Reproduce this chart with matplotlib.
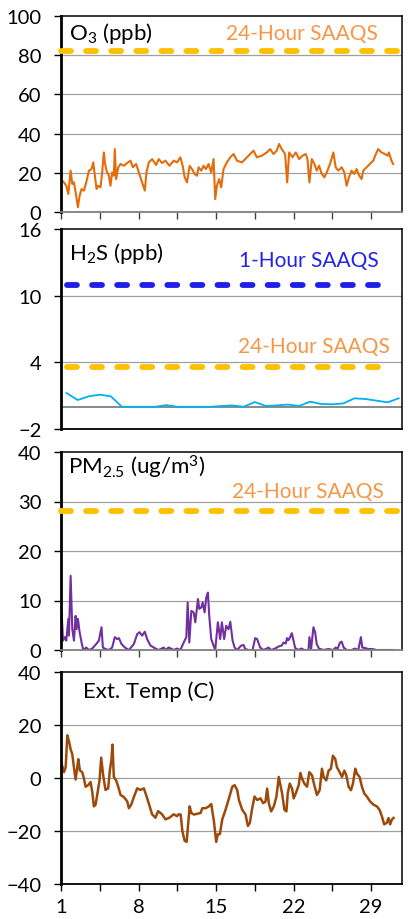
import numpy as np
import matplotlib
matplotlib.use("Agg")
import matplotlib.pyplot as plt
from matplotlib.ticker import MultipleLocator

plt.rcParams['font.family'] = ['Lato', 'DejaVu Sans']
plt.rcParams['mathtext.fontset'] = 'custom'
plt.rcParams['mathtext.rm'] = 'Lato'
plt.rcParams['mathtext.it'] = 'Lato:italic'

# ---------------- data ----------------
o3_day = [1.1, 1.27, 1.48, 1.66, 1.87, 2.02, 2.17, 2.32, 2.53, 2.68, 2.86, 3.07, 3.28, 3.52,
          3.76, 3.91, 4.06, 4.21, 4.36, 4.57, 4.72, 4.87, 4.96, 5.11, 5.32, 5.47, 5.62,
          5.77, 5.86, 5.98, 6.17, 6.38, 6.68, 6.98, 7.28, 7.49, 7.79, 8.03, 8.33, 8.57,
          8.72, 8.93, 9.23, 9.59, 9.83, 10.13, 10.43, 10.79, 11.18, 11.48, 11.78, 11.99,
          12.17, 12.38, 12.62, 12.83, 13.07, 13.28, 13.43, 13.67, 13.88, 14.09, 14.33,
          14.57, 14.78, 14.93, 15.08, 15.29, 15.47, 15.68, 15.98,
          16.29, 16.59, 16.89, 17.34, 17.79, 18.09, 18.39, 18.69, 19.14, 19.59, 19.89,
          20.19, 20.49, 20.7, 20.94, 21.24, 21.43, 21.61, 21.91, 22.21, 22.51, 22.81,
          23.11, 23.26, 23.44, 23.65, 23.89, 24.1, 24.31, 24.55, 24.79, 25.0, 25.3,
          25.6, 25.81, 26.05, 26.35, 26.59, 26.8, 27.01, 27.25, 27.49, 27.7, 27.94,
          28.15, 28.3, 28.6, 28.9, 29.2, 29.44, 29.65, 29.95, 30.25, 30.49, 30.61,
          30.85, 31.0]
o3_val = [16, 15.1, 13.4, 9.2, 21.1, 14.3, 15.1, 10, 2.4, 8.3, 11.7, 10.9, 15.1, 21.1,
          21.9, 25.3, 18.5, 11.7, 13.4, 12.6, 20.2, 30.4, 25.3, 21.1, 18.5, 13.4, 20.2,
          18.5, 32.1, 16.8, 22.8, 24.5, 23.6, 25, 26.2, 22.8, 24.5, 20.2, 15.1, 10.9,
          20.2, 25.3, 27, 24, 27, 25, 26.2, 23.6, 26.2, 25.3, 27.9, 23.6,
          17.7, 15.1, 23.6, 21.9, 19.4, 18.5, 22.8, 21.1, 23.6, 21.9, 24.5,
          20.2, 27, 6.6, 13.4, 16.8, 12.6, 21.9, 25.3,
          27.9, 29.6, 26.2, 25.3, 27.9, 29.6, 31.3, 27.9, 28.7, 30.4, 32.1,
          29.6, 31.3, 34.7, 32.1, 29.6, 15.1, 30.4, 27.9, 30.4, 27, 28.7,
          29.6, 27, 15.1, 27, 24.5, 21.1, 23.6, 19.4, 17.7, 20.2, 24.5,
          30.4, 22.8, 21.1, 22.8, 20.2, 13.4, 17.7, 21.1, 19.4, 21.9, 18.5,
          16.8, 21.1, 22.8, 24.5, 26.2, 29.6, 32.1, 30.4, 29.6, 28.7, 30.4,
          26.2, 24.5]
o3_std = 82

h2s_day = list(range(1, 32))
h2s_val = [1.24, 0.61, 0.94, 1.09, 0.94, 0.0, 0.0, 0.0, 0.0, 0.15, 0.0, 0.0, 0.0, 0.0,
           0.07, 0.12, 0.0, 0.43, 0.07, 0.12, 0.2, 0.07, 0.46, 0.25, 0.22, 0.3, 0.76,
           0.7, 0.55, 0.4, 0.76]
h2s_std_1h = 11
h2s_std_24h = 3.6
h2s_ticks = [-2, 4, 10, 16]

pm_day = [1.0, 1.06, 1.18, 1.36, 1.48, 1.66, 1.72, 1.87, 2.02, 2.17, 2.32, 2.41, 2.53, 2.68,
          2.86, 3.01, 3.28, 3.52, 3.82, 4.18, 4.42, 4.66, 4.78, 5.02, 5.32, 5.62, 5.86,
          6.08, 6.23, 6.47, 6.77, 7.13, 7.58, 7.88, 8.09, 8.33, 8.57, 8.78, 9.08, 9.53,
          9.83, 10.28, 10.43, 10.73, 11.18, 11.48, 11.78, 12.08, 12.32, 12.44, 12.59,
          12.77, 12.98, 13.13, 13.37, 13.49, 13.67, 13.79, 13.97, 14.12, 14.27, 14.39,
          14.57, 14.78, 14.93, 15.17, 15.38, 15.53, 15.74, 15.92, 16.13, 16.29, 16.5,
          16.68, 16.89, 17.1, 17.28, 17.49, 17.64, 17.94, 18.3, 18.54, 18.72, 18.99,
          19.29, 19.59, 19.74, 19.98, 20.34, 20.64, 20.94, 21.09, 21.3, 21.42, 21.55,
          21.7, 21.85, 22.0, 22.15, 22.45, 22.69, 22.99, 23.35, 23.44, 23.59, 23.8,
          23.95, 24.1, 24.3, 24.7, 25.15, 25.6, 25.81, 26.0, 26.2, 26.35, 26.53, 26.8,
          27.25, 27.55, 27.85, 28.09, 28.21, 28.45, 28.75, 29.11, 29.5, 30.25, 31.0]
pm_val = [2.2, 7.5, 1.9, 2.6, 1.9, 6.3, 2.9, 15, 4.2, 1.9, 6.9, 4.2, 6.3, 3.6,
          1.5, 0, 0.5, 0, 0.3, 1.2, 1.9, 4.6, 0.5, 0.2, 0, 0.5, 2.6,
          2.2, 2.4, 1.2, 0.5, 0, 1.2, 3.2, 3.6, 2.9, 3.7, 2.2, 0.9, 0.3,
          0, 0.5, 0, 0.5, 0, 0.3, 0, 1.5, 2.6, 9.6, 1.5,
          7.9, 7.6, 5.6, 10.3, 8.3, 8.6, 9.6, 7.6, 10.6, 11.6, 6.9,
          2.2, 0.9, 0, 5.6, 2.2, 5.6, 2.2, 4.9, 4.2, 5.7, 1.9,
          0.5, 0, 0.5, 0.9, 1.0, 0.2, 0, 0, 2.4, 2.2, 0.5,
          0, 0.3, 0.5, 0, 0.3, 0.7, 0.9, 1.5, 1.3, 2.4, 2.0,
          2.6, 3.4, 1.9, 0.4, 0, 0.3, 0, 0, 2.6, 0.2, 4.6,
          3.6, 1.2, 0.3, 0, 0.2, 0, 0.5, 0.3, 1.5, 1.7, 0.5, 0,
          0, 0.3, 0, 2.6, 0.5, 0.4, 0.2, 0.2, 0, 0, 0]
pm_std = 28

t_day = [1.06, 1.27, 1.42, 1.57, 1.72, 1.87, 2.02, 2.17, 2.32, 2.47, 2.56, 2.71, 2.92, 3.07,
         3.22, 3.46, 3.67, 3.82, 3.97, 4.12, 4.27, 4.48, 4.63, 4.81, 5.02, 5.26, 5.41,
         5.56, 5.65, 5.77, 5.98, 6.17, 6.38, 6.68, 6.98, 7.13, 7.34, 7.58, 7.88, 8.18,
         8.48, 8.69, 8.93, 9.23, 9.53, 9.77, 10.13, 10.43, 10.79, 11.18, 11.48, 11.63,
         11.81, 11.96, 12.17, 12.35, 12.5, 12.62, 12.77, 13.01, 13.31, 13.61, 13.76,
         14.06, 14.36, 14.57, 14.81, 15.02, 15.17, 15.35, 15.56, 15.86, 16.17, 16.47,
         16.68, 16.92, 17.07, 17.37, 17.67, 17.88, 18.06, 18.27, 18.48, 18.72, 19.02,
         19.26, 19.47, 19.62, 19.77, 19.98, 20.22, 20.46, 20.67, 20.82, 20.97, 21.18,
         21.36, 21.48, 21.66, 21.87, 22.02, 22.26, 22.47, 22.62, 22.77, 22.98, 23.22,
         23.43, 23.67, 23.88, 24.12, 24.36, 24.57, 24.72, 24.96, 25.17, 25.38, 25.56,
         25.77, 25.92, 26.17, 26.38, 26.59, 26.77, 26.98, 27.19, 27.37, 27.58, 27.73,
         27.97, 28.18, 28.39, 28.63, 28.93, 29.23, 29.53, 29.77, 29.98, 30.19, 30.43,
         30.58, 30.73, 30.88, 31.03]
t_val = [5.3, 2.2, 4.0, 16.1, 13.9, 10.8, 9.0, 4.0, -0.6, 4.0, 7.1, 2.8, 2.2, -0.2,
         -3.3, -2.7, -1.5, -5.2, -10.7, -10.1, -6.4, -0.9, 7.7, 1.0, -4.5, -3.9, 2.8,
         7.1, 12.6, 0.4, -0.9, -3.3, -6.4, -7.2, -8.8, -11.4, -10.1, -7.2, -3.9, -4.5,
         -3.9, -6.4, -9.6, -13.7, -15.0, -12.5, -13.7, -15.6, -15.0, -13.7, -14.4, -13.7,
         -13.8, -20.0, -23.7, -24.1, -16.9, -10.7, -13.2, -13.8, -13.5, -13.2, -11.4,
         -11.4, -10.7, -9.8, -16.3, -24.1, -21.2, -21.2, -15.7, -12.0, -7.7, -3.3,
         -2.7, -4.6, -8.3, -12.0, -13.8, -18.1, -16.9, -11.4, -7.0, -8.3, -7.7,
         -9.5, -8.9, -4.0, -9.5, -12.6, -10.7, -7.0, 0.4, -2.7, -5.8, -12.0,
         -12.6, -5.8, -2.1, -4.0, -7.7, -5.2, -2.7, 1.9, -0.2, -2.1, -3.3,
         2.2, 1.0, -2.7, -6.4, -4.6, 3.5, 0.4, -0.9, 2.8, 3.5, 8.4,
         7.2, 4.1, 2.2, 0.4, 2.8, 1.0, -3.3, -4.6, -2.1, 3.5, 1.6,
         0.4, -3.3, -5.8, -7.0, -8.9, -10.1, -10.7, -12.0, -14.4, -17.5, -16.9,
         -15.1, -17.5, -15.7, -15.1]

x_ticks_major = [1, 8, 15, 22, 29]

# ---------------- style ----------------
ORANGE_TXT = '#F79646'
GOLD = '#FFC000'
BLUE = '#1F1FE8'
GRID = '#A0A0A0'
FS = 14.5
LBL = 16
STD_FS = 15

W, H = 409, 920
fig = plt.figure(figsize=(W / 100, H / 100), dpi=100)

left_px, right_px = 61, 402
panels_px = [(17, 213), (230, 430), (453, 651), (673, 885)]
axes = []
for top, bot in panels_px:
    ax = fig.add_axes([left_px / W, 1 - bot / H, (right_px - left_px) / W, (bot - top) / H])
    axes.append(ax)

XMIN, XMAX = 1, 31.8


def style(ax, ymin, ymax, ystep, grid_vals, bottom_gray=False, xticks=True):
    ax.set_xlim(XMIN, XMAX)
    ax.set_ylim(ymin, ymax)
    ax.yaxis.set_major_locator(MultipleLocator(ystep))
    ax.set_xticks(np.arange(1, 32, 3.5))
    ax.set_xticklabels([])
    for g in grid_vals:
        ax.axhline(g, color=GRID, lw=0.9, zorder=0.5)
    ax.spines['left'].set_linewidth(2.0)
    ax.spines['left'].set_color('black')
    for s in ['top', 'right']:
        ax.spines[s].set_linewidth(1.1)
        ax.spines[s].set_color('black')
    if bottom_gray:
        ax.spines['bottom'].set_color('#7F7F7F')
        ax.spines['bottom'].set_linewidth(1.3)
    else:
        ax.spines['bottom'].set_linewidth(1.3)
        ax.spines['bottom'].set_color('black')
    ax.tick_params(axis='y', direction='out', length=5, width=1.0, pad=9,
                   labelsize=FS, color='black')
    ax.tick_params(axis='x', direction='out', length=5 if xticks else 0, width=1.0,
                   color='#404040')


def text_ax(ax, xf, yf, s, color='black', ha='left', size=LBL):
    ax.text(xf, yf, s, transform=ax.transAxes, ha=ha, va='baseline',
            color=color, fontsize=size)


def std_line(ax, y, color, x0, x1, clip=False):
    ax.plot([x0, x1], [y, y], color=color, lw=4.2, dashes=(1.7, 2.6),
            solid_capstyle='round', dash_capstyle='round', clip_on=clip, zorder=3)


# Panel 1: O3
ax = axes[0]
style(ax, 0, 100, 20, [20, 40, 60, 80], bottom_gray=True)
ax.plot(o3_day, o3_val, color='#E46C0A', lw=1.5, zorder=2)
std_line(ax, o3_std, GOLD, XMIN, 32.3)
text_ax(ax, 0.023, 0.883, r'O$_\mathrm{3}$ (ppb)')
text_ax(ax, 0.93, 0.883, '24-Hour SAAQS', color=ORANGE_TXT, ha='right', size=STD_FS)

# Panel 2: H2S
ax = axes[1]
style(ax, -2, 16, 6, [10, 4], xticks=False)
ax.set_yticks(h2s_ticks)
ax.axhline(0, color='#808080', lw=1.3, zorder=0.6)
ax.plot(np.array(h2s_day) + 0.5, h2s_val, color='#00B0F0', lw=1.3, zorder=2)
std_line(ax, h2s_std_1h, BLUE, 1.5, 31.0, clip=True)
std_line(ax, h2s_std_24h, GOLD, 1.5, 31.0, clip=True)
text_ax(ax, 0.023, 0.85, r'H$_\mathrm{2}$S (ppb)')
text_ax(ax, 0.933, 0.815, '1-Hour SAAQS', color='#2323E6', ha='right', size=STD_FS)
text_ax(ax, 0.965, 0.385, '24-Hour SAAQS', color=ORANGE_TXT, ha='right', size=STD_FS)

# Panel 3: PM2.5
ax = axes[2]
style(ax, 0, 40, 10, [10, 20, 30], bottom_gray=True)
ax.plot(pm_day, pm_val, color='#7030A0', lw=1.5, zorder=2)
std_line(ax, pm_std, GOLD, XMIN, 32.3)
text_ax(ax, 0.02, 0.889, r'PM$_\mathrm{2.5}$ (ug/m$^\mathrm{3}$)')
text_ax(ax, 0.947, 0.773, '24-Hour SAAQS', color=ORANGE_TXT, ha='right', size=STD_FS)

# Panel 4: temperature
ax = axes[3]
style(ax, -40, 40, 20, [20, 0, -20])
ax.plot(t_day, t_val, color='#9C4A0C', lw=1.8, zorder=2)
text_ax(ax, 0.065, 0.882, 'Ext. Temp (C)')
ax.set_xticks(np.arange(1, 32, 3.5))
ax.set_xticklabels([str(int(t)) if float(t).is_integer() and int(t) in x_ticks_major else ''
                    for t in np.arange(1, 32, 3.5)])
ax.tick_params(axis='x', labelsize=FS, pad=5, colors='black')

fig.savefig('out.png', dpi=100)
